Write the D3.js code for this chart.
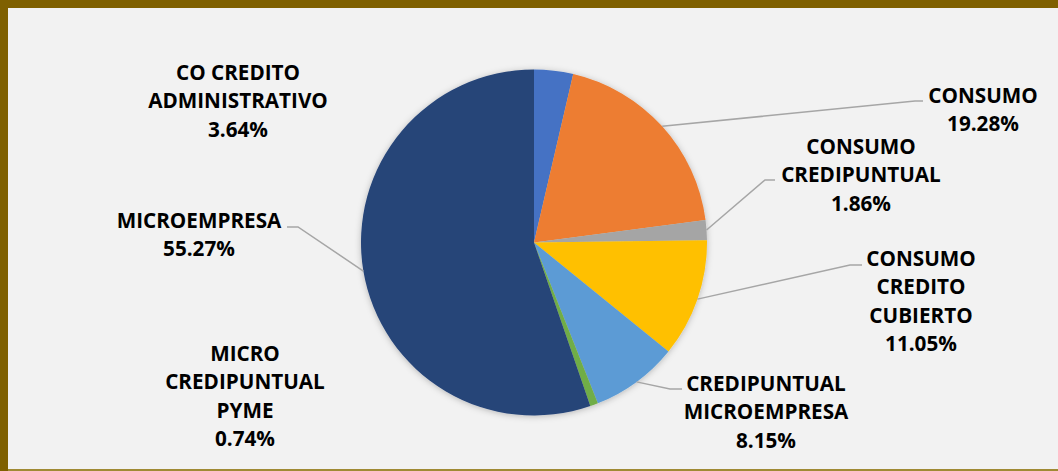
<!DOCTYPE html>
<html>
<head>
<meta charset="utf-8">
<script src="https://cdn.jsdelivr.net/npm/d3@7"></script>
<style>
  body { margin: 0; background: #f2f2f2; }
  text { font-family: "Open Sans", "Noto Sans", sans-serif; font-weight: 700; }
</style>
</head>
<body>
<svg id="chart"></svg>
<script>
let width = 1058;
let height = 471;

// data, clockwise from 12 o'clock
const categories = ["CO CREDITO ADMINISTRATIVO", "CONSUMO", "CONSUMO CREDIPUNTUAL",
	"CONSUMO CREDITO CUBIERTO", "CREDIPUNTUAL MICROEMPRESA", "MICRO CREDIPUNTUAL PYME", "MICROEMPRESA"];
const values = [3.64, 19.28, 1.86, 11.05, 8.15, 0.74, 55.27];
const labelLines = [
	["CO CREDITO", "ADMINISTRATIVO"],
	["CONSUMO"],
	["CONSUMO", "CREDIPUNTUAL"],
	["CONSUMO", "CREDITO", "CUBIERTO"],
	["CREDIPUNTUAL", "MICROEMPRESA"],
	["MICRO", "CREDIPUNTUAL", "PYME"],
	["MICROEMPRESA"]
];
const colors = ["#4472c4", "#ed7d31", "#a5a5a5", "#ffc000", "#5b9bd5", "#70ad47", "#264478"];

// label layout: text centre x, first line centre y, leader elbow or null
const labelPos = [
	{x: 238, y: 72, leader: null},
	{x: 983, y: 95, leader: {ex: 915, ey: 101, hx: 923}},
	{x: 861, y: 146, leader: {ex: 765, ey: 180, hx: 775}},
	{x: 921, y: 258, leader: {ex: 850, ey: 265, hx: 862}},
	{x: 766, y: 383, leader: {ex: 670, ey: 389, hx: 682}},
	{x: 245, y: 353, leader: null},
	{x: 199, y: 220, leader: {ex: 298, ey: 227, hx: 287}}
];

const cx = 534, cy = 242.5, r = 173;
const lineH = 28.5;

const svg = d3.select("#chart").attr("width", width).attr("height", height);

// frame
svg.append("rect").attr("x", 0).attr("y", 0).attr("width", width).attr("height", height).attr("fill", "#7f6000");
svg.append("rect").attr("x", 8).attr("y", 8).attr("width", width - 8).attr("height", 461).attr("fill", "#f2f2f2");
svg.append("rect").attr("x", 8).attr("y", 469).attr("width", width - 8).attr("height", 2).attr("fill", "#a08a34");

const defs = svg.append("defs");
const f = defs.append("filter").attr("id", "shadow").attr("x", "-20%").attr("y", "-20%").attr("width", "140%").attr("height", "140%");
f.append("feDropShadow").attr("dx", 0).attr("dy", 1).attr("stdDeviation", 3)
	.attr("flood-color", "#000").attr("flood-opacity", 0.25);

const pie = d3.pie().sort(null).value(d => d)
	.startAngle(0).endAngle(2 * Math.PI);
const arcs = pie(values);
const arc = d3.arc().innerRadius(0).outerRadius(r);

const g = svg.append("g").attr("transform", `translate(${cx},${cy})`);
g.append("g").attr("filter", "url(#shadow)")
	.selectAll("path")
	.data(arcs).enter()
	.append("path")
	.attr("d", arc)
	.attr("fill", (d, i) => colors[i]);

// leader lines, from the slice's outer mid point
arcs.forEach((d, i) => {
	const p = labelPos[i];
	if (!p.leader) return;
	const a = (d.startAngle + d.endAngle) / 2;
	const sx = cx + r * Math.sin(a), sy = cy - r * Math.cos(a);
	svg.append("polyline")
		.attr("points", [[sx, sy], [p.leader.ex, p.leader.ey], [p.leader.hx, p.leader.ey]].map(q => q.join(",")).join(" "))
		.attr("fill", "none")
		.attr("stroke", "#a6a6a6")
		.attr("stroke-width", 1.5);
});

// labels
categories.forEach((c, i) => {
	const p = labelPos[i];
	const lines = labelLines[i].concat([d3.format(".2f")(values[i]) + "%"]);
	const t = svg.append("text")
		.attr("text-anchor", "middle")
		.attr("font-size", 20.7)
		.attr("fill", "#000");
	lines.forEach((l, k) => {
		t.append("tspan")
			.attr("x", p.x)
			.attr("y", p.y + k * lineH + 7.5)
			.text(l);
	});
});
</script>
</body>
</html>
